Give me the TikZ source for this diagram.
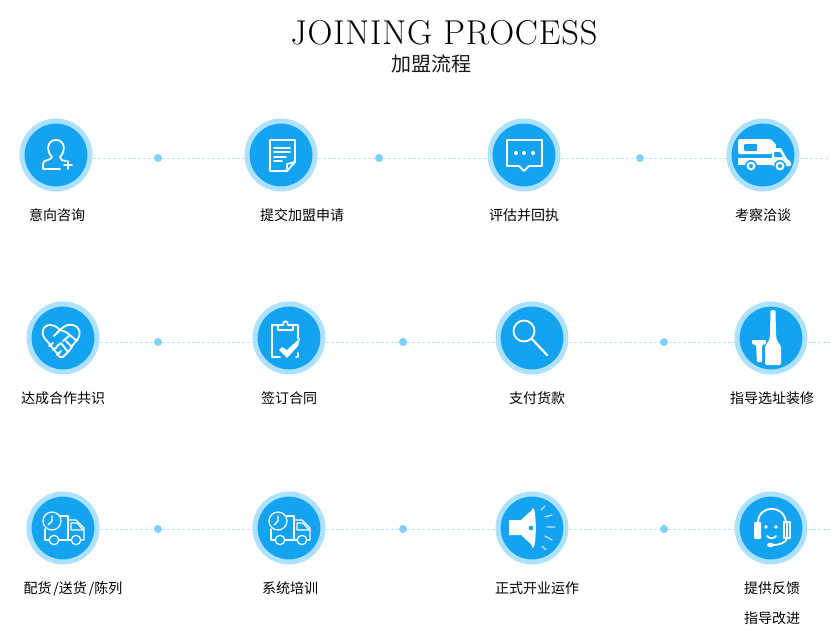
\documentclass[tikz,border=0pt]{standalone}
\usepackage{fontspec}
\newfontfamily\cjk{Noto Sans CJK SC}
\newfontfamily\headfont{lmroman17-regular.otf}[LetterSpace=2.4]
\usepackage{xcolor}
\usepackage{tikz}
\usetikzlibrary{calc}
\definecolor{stepblue}{HTML}{14A3F0}
\definecolor{ringblue}{HTML}{ADE1FF}
\definecolor{dotblue}{HTML}{7FCFFF}
\definecolor{linkblue}{HTML}{B5E3FF}

\begin{document}
\begin{tikzpicture}[
  x=1pt,y=-1pt,
  stepnode/.style={circle,fill=stepblue,draw=ringblue,line width=5pt,minimum size=68pt,inner sep=0pt},
  dotnode/.style={circle,fill=dotblue,minimum size=8pt,inner sep=0pt},
  link/.style={draw=linkblue,line width=0.9pt,densely dashed},
  label/.style={font=\cjk\fontsize{14}{14}\selectfont,text=black,text height=11pt,text depth=3pt,yshift=-1pt},
  title/.style={font=\headfont\fontsize{34.5}{34.5}\selectfont,text=black},
  subtitle/.style={font=\cjk\fontsize{20}{20}\selectfont,text=black!90},
  icon/.style={draw=white,line width=1.8pt,line cap=round,line join=round},
  thinicon/.style={draw=white,line width=1.2pt,line cap=round,line join=round},
  clocktruck/.pic={
    \draw[thinicon] (-3,-12) -- (5,-12) -- (5,12) -- (-4,12);
    \draw[thinicon] (-18,1) -- (-18,12) -- (-14,12);
    \draw[thinicon] (5,-8) -- (13,-8) -- (21,0) -- (21,12) -- (18,12);
    \draw[thinicon] (5,12) -- (8,12);
    \draw[thinicon] (8,-5) -- (14,-5) -- (20,2) -- (8,2) -- cycle;
    \draw[thinicon,fill=stepblue] (-11,-7) circle (9);
    \draw[thinicon] (-11,-12) -- (-11,-7) -- (-15,-3);
    \draw[thinicon] (-9,12) circle (4.7);
    \draw[thinicon] (13,12) circle (4.7);
  },
]
\useasboundingbox (0,0) rectangle (830,634);

% Heading
\node[title] (heading) at (444,33) {JOINING PROCESS};
\node[subtitle] (subheading) at (431,64) {加盟流程};

% Steps
\foreach \name/\x/\y in {s1/56/155,s2/281/155,s3/524/155,s4/763/155,
                         s5/63/338,s6/289/338,s7/532/338,s8/771/338,
                         s9/63/528,s10/289/528,s11/532/528,s12/771/528}
  \node[stepnode] (\name) at (\x,\y) {};

% Dots between the steps
\foreach \name/\x/\y in {d1/158/158,d2/379/158,d3/640/158,
                         d4/158/342,d5/403/342,d6/664/342,
                         d7/158/529,d8/403/529,d9/664/529}
  \node[dotnode] (\name) at (\x,\y) {};

% Free ends at the right edge
\coordinate (e1) at (830,158);
\coordinate (e2) at (830,342);
\coordinate (e3) at (830,529);

% Links
\foreach \a/\d/\b in {s1/d1/s2,s2/d2/s3,s3/d3/s4,
                      s5/d4/s6,s6/d5/s7,s7/d6/s8,
                      s9/d7/s10,s10/d8/s11,s11/d9/s12}{
  \draw[link] (\d.west -| \a.east) -- (\d.west);
  \draw[link] (\d.east) -- (\d.east -| \b.west);
}
\draw[link] (e1 -| s4.east) -- (e1);
\draw[link] (e2 -| s8.east) -- (e2);
\draw[link] (e3 -| s12.east) -- (e3);

% Labels
\node[label] (l1) at (57,215) {意向咨询};
\node[label] (l2) at (302,215) {提交加盟申请};
\node[label] (l3) at (524,215) {评估并回执};
\node[label] (l4) at (763,215) {考察洽谈};
\node[label] (l5) at (63,398) {达成合作共识};
\node[label] (l6) at (289,398) {签订合同};
\node[label] (l7) at (537,398) {支付货款};
\node[label] (l8) at (772,398) {指导选址装修};
\node[label] (l9) at (73,588) {配货\hspace{2pt}/送货\hspace{2pt}/陈列};
\node[label] (l10) at (290,588) {系统培训};
\node[label] (l11) at (537,588) {正式开业运作};
\node[label] (l12) at (772,588) {提供反馈};
\node[label] (l13) at (772,618) {指导改进};

% Person with plus
\begin{scope}[shift={(s1)}]
  \draw[icon] (4,14) -- (-13,14) -- (-13,9) .. controls (-13,4) and (-5,6) .. (-4,2)
    .. controls (-10,-4) and (-9,-15) .. (0,-15) .. controls (9,-15) and (10,-4) .. (4,2)
    .. controls (4,5) and (7,6) .. (10,6);
  \draw[icon] (8,10) -- (16,10) (12,6) -- (12,14);
\end{scope}

% Sheet with folded corner
\begin{scope}[shift={(s2)}]
  \draw[icon] (6,16) -- (-11,16) -- (-11,-15) -- (14,-15) -- (14,7) -- cycle;
  \draw[icon] (6,16) -- (6,9) -- (14,7);
  \draw[icon] (-7,-7) -- (9,-7) (-7,-3) -- (9,-3) (-7,2) -- (5,2) (-7,6) -- (1,6);
\end{scope}

% Speech bubble
\begin{scope}[shift={(s3)}]
  \draw[icon] (-17,-15) -- (18,-15) -- (18,11) -- (5,11) -- (0,16) -- (-5,11) -- (-17,11) -- cycle;
  \foreach \x in {-8,0,9}
    \fill[white] (\x,-2) circle (2);
\end{scope}

% Camper van
\begin{scope}[shift={(s4)}]
  \fill[white,rounded corners=2pt] (-25,-16) -- (8,-16) -- (14,-9) -- (9,-1) -- (-25,-1) -- cycle;
  \fill[stepblue,rounded corners=1pt] (-19,-11) rectangle (-6,-4);
  \fill[white] (-25,3) rectangle (10,10);
  \fill[white,rounded corners=1pt] (9,-7) -- (18,-7) -- (24,4) -- (28,7) -- (28,11) -- (9,11) -- cycle;
  \fill[stepblue,rounded corners=1pt] (11,-3) -- (17,-3) -- (20,2) -- (11,2) -- cycle;
  \foreach \x in {-12,17}{
    \fill[stepblue] (\x,11) circle (6);
    \fill[white] (\x,11) circle (4.5);
    \fill[stepblue] (\x,11) circle (2);
  }
\end{scope}

% Heart and handshake
\begin{scope}[shift={(s5)}]
  \draw[icon] (-16,3) .. controls (-23,-3) and (-21,-13) .. (-13,-13)
    .. controls (-9,-13) and (-6,-11) .. (-3,-8) .. controls (1,-12) and (5,-14) .. (9,-13)
    .. controls (17,-12) and (19,-4) .. (14,2) -- (8,9);
  \draw[icon] (-9,-2) -- (-3,-8) -- (3,-6) -- (14,3);
  \draw[icon] (-16,3) -- (-3,19) -- (0,19) -- (5,14) -- (-2,5) -- (-6,8);
  \draw[icon] (-14,8) -- (-10,5) (-10,12) -- (-6,9) (-6,17) -- (-2,13);
  \draw[icon] (5,14) -- (9,9) -- (3,3);
  \draw[icon] (0,3) -- (6,-2);
\end{scope}

% Clipboard with check mark
\begin{scope}[shift={(s6)}]
  \draw[icon] (-11,-13) -- (-17,-13) -- (-17,19) -- (-9,19);
  \draw[icon] (4,-13) -- (9,-13) -- (9,1) (9,15) -- (9,19) -- (7,19);
  \draw[icon] (-11,-8) -- (4,-8) -- (4,-13) -- (-1,-13) .. controls (-1,-18) and (-6,-18) .. (-6,-13) -- (-11,-13) -- cycle;
  \draw[stepblue,line width=5pt] (-9,12) -- (-2,17) -- (11,2);
  \fill[white] (-10,12) -- (-7,9) -- (-2,12) -- (11,0) -- (9,8) -- (-2,20) -- cycle;
\end{scope}

% Magnifier
\begin{scope}[shift={(s7)}]
  \draw[icon] (-8,-7) circle (10.5);
  \draw[icon,line width=2.2pt] (0,1) -- (15,17);
\end{scope}

% Screwdrivers
\begin{scope}[shift={(s8)}]
  \fill[white,rounded corners=1.5pt] (-0.5,-28) -- (4.5,-28) -- (5,-3) -- (6,3) -- (10,8) -- (10,27) -- (-6,27) -- (-6,8) -- (-2,3) -- (-1,-3) -- cycle;
  \fill[white,rounded corners=1pt] (-19,2) -- (-5,2) -- (-5,6) -- (-9,7) -- (-9,24) -- (-14,24) -- (-15,7) -- (-19,6) -- cycle;
\end{scope}

% Trucks with clock
\pic at (s9) {clocktruck};
\pic at (s10) {clocktruck};

% Loudspeaker
\begin{scope}[shift={(s11)}]
  \fill[white] (-23,-8) -- (-11,-8) -- (0,-18) -- (0,17) -- (-11,7) -- (-23,7) -- cycle;
  \fill[white] (1,0) ellipse (2.8 and 20);
  \fill[stepblue] (-3,-2) rectangle (1,2);
  \draw[thinicon,white!75!stepblue] (9,-18) -- (13,-22) (13,-11) -- (20,-13) (15,-1) -- (23,-1) (13,8) -- (20,12) (10,18) -- (14,22);
\end{scope}

% Headset with smile
\begin{scope}[shift={(s12)}]
  \draw[icon] (-13,-5) .. controls (-13,-24) and (14,-24) .. (15,-5);
  \fill[white,rounded corners=1pt] (-17,-6) rectangle (-10,11);
  \draw[thinicon] (13,-6) rectangle (19,10);
  \draw[thinicon] (16,-6) -- (16,10);
  \fill[white] (-5,-1) circle (1.8) (5,-1) circle (1.8);
  \draw[icon] (-4,8) .. controls (-2,11) and (3,11) .. (5,8);
  \draw[icon] (16,10) .. controls (15,15) and (8,17) .. (2,17);
  \fill[white] (-0.5,17) ellipse (3.5 and 2.2);
\end{scope}

\end{tikzpicture}
\end{document}
